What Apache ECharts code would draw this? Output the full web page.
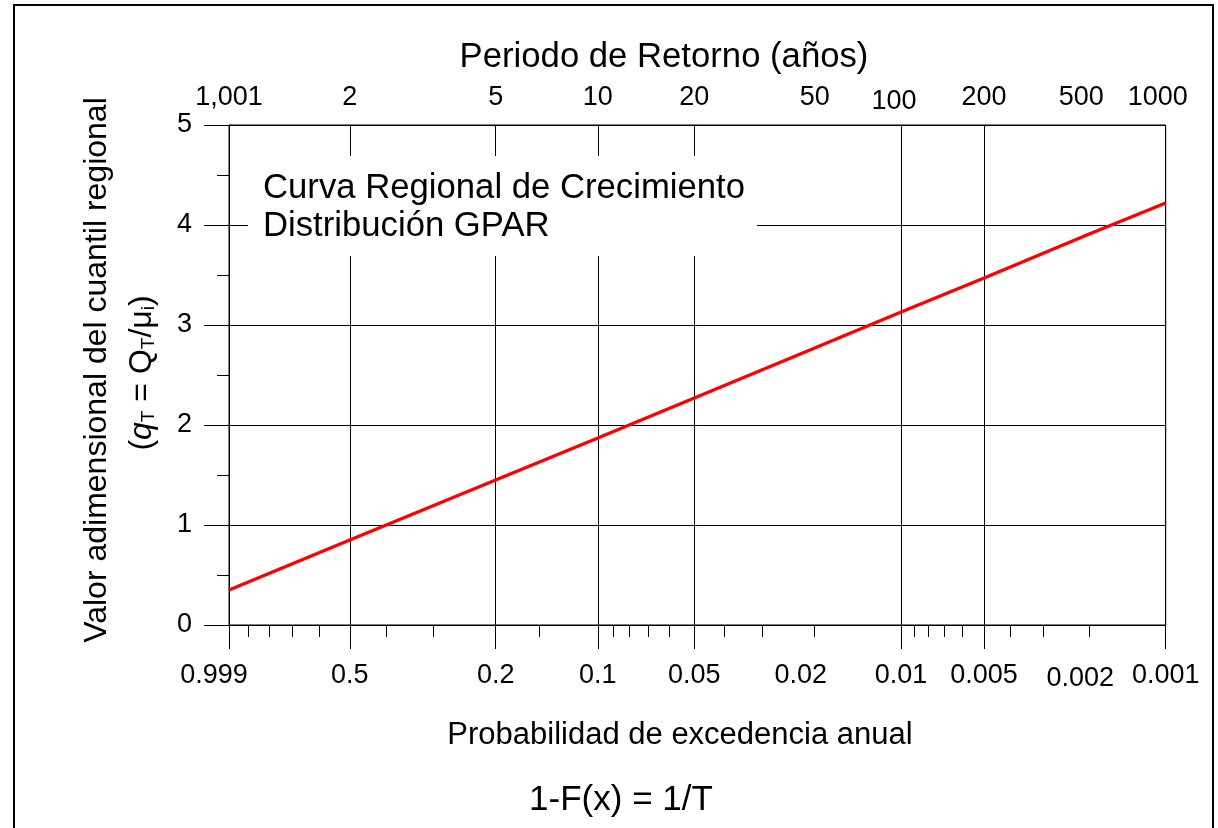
<!DOCTYPE html>
<html>
<head>
<meta charset="utf-8">
<script src="https://cdn.jsdelivr.net/npm/echarts@6/dist/echarts.min.js"></script>
<style>
html,body{margin:0;padding:0;background:#fff;}
#chart{width:1218px;height:828px;}
</style>
</head>
<body>
<div id="chart"></div>
<script>
// ---------------- DATA ----------------
const returnPeriods = [1.001, 2, 5, 10, 20, 50, 100, 200, 500, 1000];
const growthQuantiles = [0.35, 0.85, 1.45, 1.87, 2.27, 2.77, 3.13, 3.47, 3.91, 4.22];

const topTickPeriods = [1.001, 2, 5, 10, 20, 50, 100, 200, 500, 1000];
const topTickLabels = ['1,001', '2', '5', '10', '20', '50', '100', '200', '500', '1000'];

const bottomLabelProbs = [0.999, 0.5, 0.2, 0.1, 0.05, 0.02, 0.01, 0.005, 0.002, 0.001];
const bottomLabelTexts = ['0.999', '0.5', '0.2', '0.1', '0.05', '0.02', '0.01', '0.005', '0.002', '0.001'];
const majorTickProbs = [0.999, 0.5, 0.2, 0.1, 0.05, 0.01, 0.005, 0.001];
const minorTickProbs = [0.9, 0.8, 0.7, 0.6, 0.4, 0.3, 0.15, 0.09, 0.08, 0.07, 0.06,
                        0.04, 0.03, 0.02, 0.009, 0.008, 0.007, 0.006, 0.004, 0.003, 0.002];

const yMin = 0, yMax = 5, yStep = 1;

// ---------------- PROBABILITY-PAPER SCALE ----------------
// axis coordinate of an annual exceedance probability p (= 1/T)
function paper(p) { return Math.pow(3.3 - Math.log(p), 0.54); }

const FONT = 'Liberation Sans, Arial, Helvetica, sans-serif';
const TICK_FS = 27;

const xMin = Math.min(paper(0.999), paper(1 / 1.001)) - 1e-9;
const xMax = paper(0.001) + 1e-9;

function nearestLabel(values, labels, v) {
  let best = 0, bd = Infinity;
  for (let i = 0; i < values.length; i++) {
    const d = Math.abs(values[i] - v);
    if (d < bd) { bd = d; best = i; }
  }
  return labels[best];
}

const bottomVals = bottomLabelProbs.map(paper);
const topVals = topTickPeriods.map(t => paper(1 / t));

// small label nudges (style only)
const bottomNudge = { '0.999': 'a', '0.02': 'b', '0.002': 'c' };
const topNudge = { '100': 'a', '500': 'b', '1000': 'b' };
function rs(extra) { return Object.assign({ fontSize: TICK_FS, fontFamily: FONT, color: '#000' }, extra); }

const seriesData = returnPeriods.map((t, i) => [paper(1 / t), growthQuantiles[i]]);

const chart = echarts.init(document.getElementById('chart'), null, { renderer: 'canvas' });

const option = {
  animation: false,
  backgroundColor: '#fff',
  grid: {
    left: 229, top: 125, right: 1218 - 1165.7, bottom: 828 - 625,
    show: true, borderColor: '#000', borderWidth: 1, backgroundColor: 'transparent',
    containLabel: false
  },
  xAxis: [
    { // major ticks, labels, vertical grid
      type: 'value', position: 'bottom', min: xMin, max: xMax,
      axisLine: { show: true, onZero: false, lineStyle: { color: '#000', width: 1 } },
      axisTick: { show: true, inside: false, length: 24, customValues: majorTickProbs.map(paper),
                  lineStyle: { color: '#000', width: 1 } },
      axisLabel: {
        show: true, customValues: bottomVals, margin: 37,
        fontSize: TICK_FS, fontFamily: FONT, color: '#000',
        formatter: function (v) {
          const t = nearestLabel(bottomVals, bottomLabelTexts, v);
          const k = bottomNudge[t] || 'n';
          return '{' + k + '|' + t + '}';
        },
        rich: {
          n: rs({}),
          a: rs({ padding: [0, 30, 0, 0] }),
          b: rs({ padding: [0, 28, 0, 0] }),
          c: rs({ padding: [3, 18, 0, 0] })
        }
      },
      splitLine: { show: true, lineStyle: { color: '#000', width: 1 } }
    },
    { // minor ticks
      type: 'value', position: 'bottom', min: xMin, max: xMax,
      axisLine: { show: false, onZero: false },
      axisTick: { show: true, inside: false, length: 12, customValues: minorTickProbs.map(paper),
                  lineStyle: { color: '#000', width: 1 } },
      axisLabel: { show: false },
      splitLine: { show: false }
    },
    { // top return-period labels
      type: 'value', position: 'top', min: xMin, max: xMax,
      axisLine: { show: false, onZero: false },
      axisTick: { show: false },
      axisLabel: {
        show: true, customValues: topVals, margin: 14,
        fontSize: TICK_FS, fontFamily: FONT, color: '#000',
        formatter: function (v) {
          const t = nearestLabel(topVals, topTickLabels, v);
          const k = topNudge[t] || 'n';
          return '{' + k + '|' + t + '}';
        },
        rich: {
          n: rs({}),
          a: rs({ padding: [0, 14, -4, 0] }),
          b: rs({ padding: [0, 16, 0, 0] })
        }
      },
      splitLine: { show: false }
    }
  ],
  yAxis: {
    type: 'value', min: yMin, max: yMax, interval: yStep,
    axisLine: { show: true, onZero: false, lineStyle: { color: '#000', width: 1 } },
    axisTick: { show: true, inside: false, length: 25, lineStyle: { color: '#000', width: 1 } },
    minorTick: { show: true, splitNumber: 2, length: 12, lineStyle: { color: '#000', width: 1 } },
    axisLabel: { show: true, margin: 37, fontSize: TICK_FS, fontFamily: FONT, color: '#000' },
    splitLine: { show: true, lineStyle: { color: '#000', width: 1 } }
  },
  series: [{
    type: 'line', xAxisIndex: 0, yAxisIndex: 0,
    data: seriesData, showSymbol: false, symbol: 'none', smooth: false,
    lineStyle: { color: '#ff0000', width: 3.5 }, z: 5
  }],
  graphic: {
    elements: [
      { type: 'rect', z: 100, shape: { x: 14, y: 5, width: 1199, height: 840 },
        style: { fill: 'none', stroke: '#000', lineWidth: 2 } },
      { type: 'rect', z: 100, shape: { x: 248, y: 156, width: 509, height: 100 },
        style: { fill: '#fff' } },
      { type: 'text', z: 101, x: 263, y: 207,
        style: { text: 'Curva Regional de Crecimiento\nDistribución GPAR', fontSize: 34.7, fontFamily: FONT,
                 fill: '#000', lineHeight: 38, align: 'left', verticalAlign: 'middle' } },
      { type: 'text', z: 101, x: 664, y: 57,
        style: { text: 'Periodo de Retorno (años)', fontSize: 34.7, fontFamily: FONT, fill: '#000',
                 align: 'center', verticalAlign: 'middle' } },
      { type: 'text', z: 101, x: 680, y: 735,
        style: { text: 'Probabilidad de excedencia anual', fontSize: 31, fontFamily: FONT, fill: '#000',
                 align: 'center', verticalAlign: 'middle' } },
      { type: 'text', z: 101, x: 621, y: 800,
        style: { text: '1-F(x) = 1/T', fontSize: 35, fontFamily: FONT, fill: '#000',
                 align: 'center', verticalAlign: 'middle' } },
      { type: 'text', z: 101, x: 97, y: 370, rotation: Math.PI / 2,
        style: { text: 'Valor adimensional del cuantil regional', fontSize: 32, fontFamily: FONT, fill: '#000',
                 align: 'center', verticalAlign: 'middle' } },
      { type: 'text', z: 101, x: 142, y: 373, rotation: Math.PI / 2,
        style: { text: '({it|q}{sub|T} = Q{sub|T}/{mu|μ}{sub|i})', fontSize: 32, fontFamily: FONT, fill: '#000',
                 lineHeight: 32, align: 'center', verticalAlign: 'middle',
                 rich: {
                   it: { fontSize: 32, fontFamily: FONT, fontStyle: 'italic', lineHeight: 32, fill: '#000' },
                   mu: { fontSize: 32, fontFamily: FONT, lineHeight: 32, fill: '#000' },
                   sub: { fontSize: 19, fontFamily: FONT, lineHeight: 18, verticalAlign: 'bottom', fill: '#000' }
                 } } }
    ]
  }
};

chart.setOption(option);
</script>
</body>
</html>
